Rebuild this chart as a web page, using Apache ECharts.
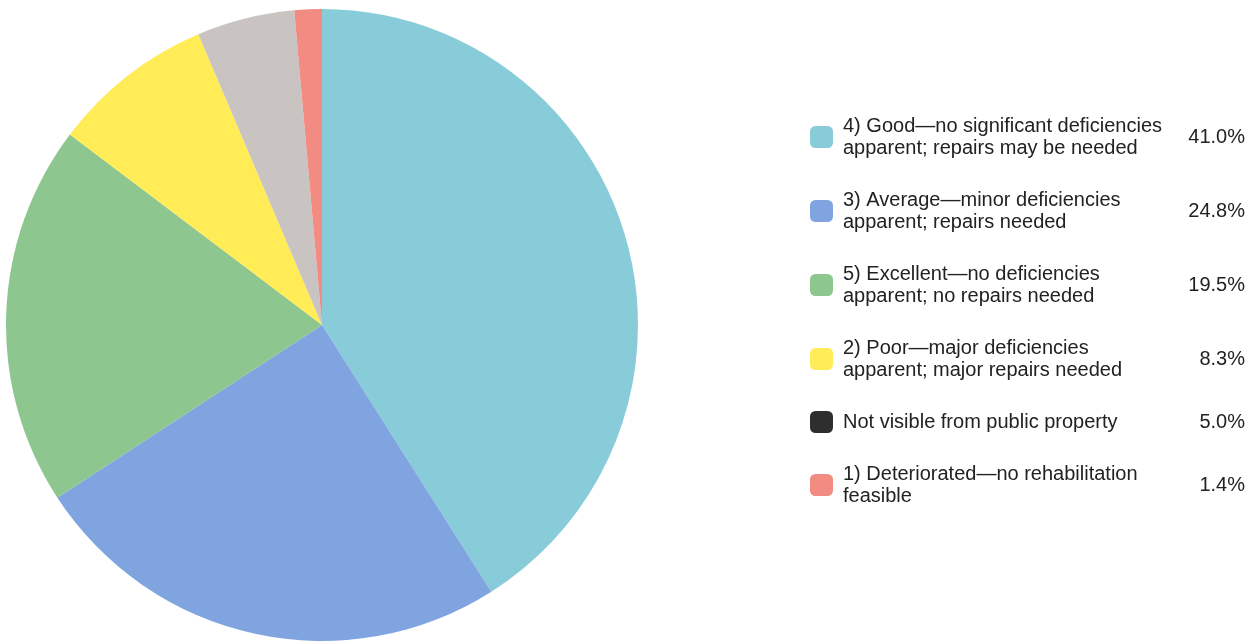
<!DOCTYPE html>
<html>
<head>
<meta charset="utf-8">
<script src="https://cdn.jsdelivr.net/npm/echarts@6/dist/echarts.min.js"></script>
<style>
html,body{margin:0;padding:0;background:#fff;}
#c{width:1260px;height:644px;}
</style>
</head>
<body>
<div id="c"></div>
<script>
const categories = [
  "4) Good\u2014no significant deficiencies\napparent; repairs may be needed",
  "3) Average\u2014minor deficiencies\napparent; repairs needed",
  "5) Excellent\u2014no deficiencies\napparent; no repairs needed",
  "2) Poor\u2014major deficiencies\napparent; major repairs needed",
  "Not visible from public property",
  "1) Deteriorated\u2014no rehabilitation\nfeasible"
];
const values = [41.0, 24.8, 19.5, 8.3, 5.0, 1.4];
const pctLabels = ["41.0%", "24.8%", "19.5%", "8.3%", "5.0%", "1.4%"];
const sliceColors = ["#88CBD9", "#80A4E0", "#8EC690", "#FFEC57", "#C9C3C1", "#F28B81"];
const legendIconColors = ["#88CBD9", "#80A4E0", "#8EC690", "#FFEC57", "#2E2E2E", "#F28B81"];

const chart = echarts.init(document.getElementById('c'));
const font = "'Liberation Sans', Arial, sans-serif";
const FS = 20;
const LH = 22;

chart.setOption({
  backgroundColor: '#fff',
  animation: false,
  legend: [
    {
      orient: 'vertical',
      left: 805,
      top: 110,
      itemWidth: 23,
      itemHeight: 22,
      itemGap: 30,
      icon: 'roundRect',
      selectedMode: false,
      textStyle: { fontFamily: font, fontSize: FS, color: '#222', lineHeight: LH, padding: [0, 0, 0, 5] },
      data: categories.map((n, i) => ({ name: n, itemStyle: { color: legendIconColors[i] } }))
    },
    {
      orient: 'vertical',
      right: 10,
      top: 110,
      itemWidth: 0,
      itemHeight: 22,
      itemGap: 30,
      icon: 'none',
      selectedMode: false,
      data: categories.map(n => ({
        name: n,
        textStyle: { padding: n.indexOf('\n') >= 0 ? [11, 0, 11, 0] : 0 }
      })),
      formatter: function (name) {
        return '{p|' + pctLabels[categories.indexOf(name)] + '}';
      },
      textStyle: {
        fontFamily: font, fontSize: FS, color: '#222', lineHeight: LH,
        rich: {
          p: { fontFamily: font, fontSize: FS, color: '#222', lineHeight: LH, width: 62, align: 'right' }
        }
      }
    }
  ],
  series: [{
    type: 'pie',
    center: [322, 325],
    radius: [0, 316],
    startAngle: 90,
    clockwise: true,
    label: { show: false },
    labelLine: { show: false },
    emphasis: { disabled: true },
    itemStyle: { borderWidth: 0 },
    data: categories.map((n, i) => ({ name: n, value: values[i], itemStyle: { color: sliceColors[i] } }))
  }]
});
</script>
</body>
</html>
